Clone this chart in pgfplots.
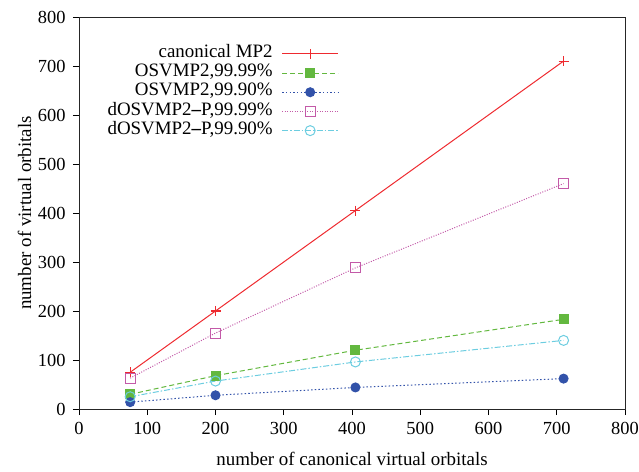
\documentclass[border=0pt]{standalone}
\usepackage{fontspec}
\setmainfont{Liberation Serif}
\usepackage{pgfplots}
\pgfplotsset{compat=1.18}
\definecolor{CanRed}{HTML}{EE2A2F}
\definecolor{OsvGreen}{HTML}{63B83F}
\definecolor{OsvBlue}{HTML}{3252A9}
\definecolor{DosPink}{HTML}{C35AA8}
\definecolor{DosCyan}{HTML}{6CCDE0}
\begin{document}
\begin{tikzpicture}
\useasboundingbox (-79bp,-63bp) rectangle (560bp,409bp);
\begin{axis}[
  at={(0,0)},anchor=south west,
  scale only axis,width=546bp,height=392bp,
  xmin=0,xmax=800,ymin=0,ymax=800,
  xtick={0,100,...,800},ytick={0,100,...,800},
  xticklabels={0,100,200,300,400,500,600,700,800},
  yticklabels={0,100,200,300,400,500,600,700,800},
  tick pos=left,tick align=outside,major tick length=6bp,
  tick style={black,line width=0.8bp},
  axis line style={black!85,line width=0.9bp},
  ticklabel style={font=\rmfamily\fontsize{18.5}{20}\selectfont},
  xticklabel style={yshift=-4bp},
  yticklabel style={xshift=-4bp},
  label style={font=\fontsize{19}{22}\selectfont},
  xlabel={number of canonical virtual orbitals},
  ylabel={number of virtual orbitals},
  xlabel style={at={(axis description cs:0.5,-0.1446)},anchor=base},
  ylabel style={at={(axis description cs:-0.0879,0.5)},anchor=base},
  legend cell align=right,
  legend plot pos=right,
  legend style={draw=none,fill=none,at={(axis description cs:0.476,0.931)},anchor=north east,
    inner sep=0pt,font=\fontsize{19}{22}\selectfont,/tikz/column sep=9bp,/tikz/row sep=0bp,
    nodes={inner sep=0pt,text height=13.2bp,text depth=6bp}},
  legend image code/.code={\draw[mark repeat=2,mark phase=2,#1] plot coordinates {(0bp,0bp) (28bp,0bp) (56bp,0bp)};},
  every axis plot/.append style={line width=1bp},
]
\addplot[color=CanRed,solid,mark=+,mark size=5bp,mark options={CanRed,solid,line width=1.1bp}] coordinates {(75,75) (200,200) (405,405) (710,710)};
\addlegendentry{canonical MP2}
\addplot[color=OsvGreen,dash pattern=on 5bp off 3bp,mark=square*,mark size=4.5bp,mark options={OsvGreen,fill=OsvGreen,solid}] coordinates {(75,30) (200,68) (405,120) (710,183)};
\addlegendentry{OSVMP2,99.99\%}
\addplot[color=OsvBlue,dash pattern=on 1.5bp off 2.2bp,mark=*,mark size=4.5bp,mark options={OsvBlue,fill=OsvBlue,solid}] coordinates {(75,14) (200,28) (405,44) (710,62)};
\addlegendentry{OSVMP2,99.90\%}
\addplot[color=DosPink,dash pattern=on 1bp off 1.5bp,mark=square,mark size=5bp,mark options={DosPink,solid}] coordinates {(75,63) (200,155) (405,288) (710,460)};
\addlegendentry{dOSVMP2{\bfseries –}P,99.99\%}
\addplot[color=DosCyan,dash pattern=on 6bp off 2bp on 1.5bp off 2bp,mark=o,mark size=5bp,mark options={DosCyan,solid}] coordinates {(75,25) (200,57) (405,96) (710,140)};
\addlegendentry{dOSVMP2{\bfseries –}P,99.90\%}
\end{axis}
\end{tikzpicture}
\end{document}
